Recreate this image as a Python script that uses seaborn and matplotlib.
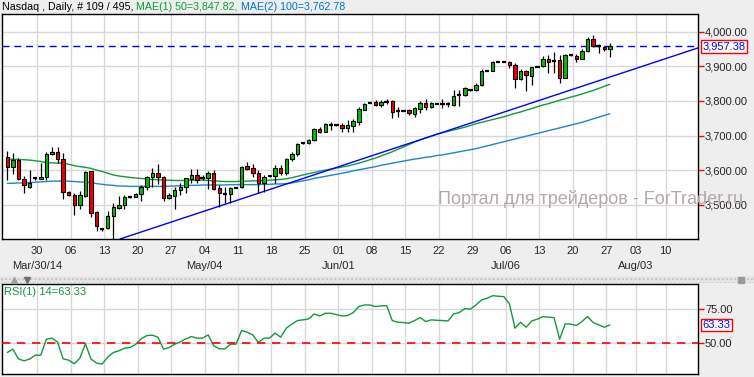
import numpy as np
import pandas as pd
import seaborn as sns
import matplotlib
matplotlib.use("Agg")
import matplotlib.pyplot as plt
import matplotlib.transforms as mtransforms
from matplotlib.ticker import FuncFormatter
from matplotlib.patches import Rectangle
from matplotlib.lines import Line2D

# ---- data (Nasdaq daily, 109 bars) ----
opens = [3637, 3610, 3629, 3573, 3552, 3576, 3575, 3579, 3646, 3653,
         3631, 3536, 3527, 3499, 3526, 3596, 3478, 3429, 3432, 3468,
         3492, 3498, 3522, 3523, 3530, 3550, 3579, 3591, 3581, 3520,
         3525, 3542, 3552, 3573, 3585, 3576, 3577, 3591, 3547, 3532,
         3531, 3549, 3550, 3612, 3605, 3593, 3562, 3582, 3583, 3605,
         3591, 3631, 3646, 3678, 3677, 3687, 3719, 3711, 3731, 3731,
         3730, 3723, 3727, 3740, 3775, 3795, 3796, 3788, 3797, 3800,
         3772, 3772, 3774, 3761, 3776, 3793, 3783, 3792, 3790, 3790,
         3788, 3816, 3817, 3832, 3832, 3846, 3887, 3887, 3913, 3913,
         3913, 3904, 3862, 3886, 3873, 3899, 3901, 3921, 3914, 3918,
         3867, 3933, 3930, 3922, 3945, 3979, 3959, 3957, 3949]
highs = [3656, 3649, 3636, 3584, 3600, 3578, 3620, 3653, 3666, 3666,
         3649, 3540, 3533, 3540, 3598, 3598, 3482, 3432, 3482, 3504,
         3525, 3528, 3524, 3534, 3557, 3584, 3606, 3617, 3583, 3533,
         3552, 3564, 3578, 3603, 3602, 3586, 3597, 3600, 3557, 3550,
         3552, 3551, 3612, 3624, 3618, 3600, 3586, 3586, 3615, 3615,
         3634, 3653, 3679, 3680, 3689, 3723, 3726, 3737, 3740, 3734,
         3735, 3745, 3747, 3783, 3795, 3797, 3803, 3803, 3805, 3803,
         3783, 3774, 3776, 3782, 3800, 3805, 3798, 3794, 3805, 3796,
         3832, 3832, 3839, 3835, 3851, 3891, 3889, 3916, 3914, 3914,
         3915, 3909, 3891, 3889, 3899, 3902, 3930, 3933, 3940, 3933,
         3935, 3935, 3936, 3949, 3986, 3990, 3963, 3960, 3968]
lows = [3571, 3589, 3571, 3533, 3547, 3572, 3573, 3571, 3644, 3620,
        3518, 3526, 3470, 3488, 3523, 3464, 3425, 3425, 3429, 3400,
        3488, 3488, 3520, 3521, 3512, 3543, 3552, 3560, 3512, 3518,
        3487, 3528, 3533, 3564, 3562, 3571, 3545, 3543, 3494, 3504,
        3504, 3547, 3547, 3600, 3579, 3533, 3538, 3580, 3562, 3586,
        3586, 3627, 3641, 3676, 3675, 3685, 3706, 3709, 3716, 3728,
        3711, 3709, 3711, 3729, 3774, 3793, 3786, 3783, 3790, 3750,
        3754, 3770, 3759, 3754, 3764, 3774, 3779, 3790, 3779, 3781,
        3786, 3786, 3815, 3829, 3830, 3843, 3885, 3885, 3912, 3912,
        3894, 3836, 3859, 3830, 3846, 3897, 3899, 3880, 3880, 3853,
        3865, 3931, 3911, 3920, 3942, 3957, 3938, 3945, 3928]
closes = [3610, 3629, 3573, 3557, 3562, 3576, 3580, 3647, 3653, 3631,
          3536, 3527, 3499, 3527, 3596, 3477, 3438, 3429, 3468, 3494,
          3499, 3522, 3522, 3531, 3550, 3579, 3591, 3581, 3520, 3528,
          3542, 3552, 3576, 3586, 3571, 3576, 3591, 3545, 3533, 3532,
          3547, 3549, 3610, 3604, 3593, 3562, 3581, 3585, 3605, 3591,
          3632, 3647, 3675, 3678, 3687, 3719, 3711, 3733, 3731, 3731,
          3723, 3730, 3742, 3777, 3791, 3795, 3788, 3796, 3797, 3769,
          3772, 3772, 3764, 3779, 3793, 3783, 3793, 3792, 3790, 3790,
          3813, 3816, 3836, 3832, 3846, 3885, 3887, 3913, 3913, 3913,
          3904, 3862, 3886, 3874, 3897, 3899, 3921, 3913, 3914, 3867,
          3933, 3933, 3922, 3945, 3979, 3960, 3958, 3949, 3957.38]

mae50 = [3632, 3631, 3631, 3630, 3629, 3627, 3625, 3622, 3621, 3620,
         3620, 3617, 3613, 3610, 3608, 3605, 3600, 3596, 3591, 3586,
         3583, 3581, 3579, 3577, 3576, 3574, 3573, 3572, 3571, 3571,
         3570, 3570, 3570, 3571, 3571, 3571, 3570, 3569, 3568, 3567,
         3567, 3567, 3568, 3568, 3569, 3569, 3570, 3571, 3572, 3573,
         3575, 3578, 3582, 3586, 3590, 3593, 3597, 3600, 3603, 3606,
         3609, 3612, 3616, 3620, 3625, 3630, 3635, 3641, 3647, 3653,
         3660, 3667, 3674, 3681, 3687, 3693, 3698, 3704, 3708, 3712,
         3716, 3720, 3724, 3729, 3734, 3738, 3742, 3746, 3750, 3754,
         3759, 3764, 3768, 3773, 3778, 3783, 3788, 3792, 3797, 3802,
         3806, 3811, 3815, 3820, 3825, 3830, 3836, 3842, 3847.82]
mae100 = [3562, 3562, 3563, 3563, 3564, 3565, 3566, 3567, 3568, 3568,
          3569, 3568, 3567, 3566, 3565, 3564, 3561, 3559, 3557, 3556,
          3554, 3554, 3553, 3553, 3553, 3553, 3553, 3553, 3553, 3554,
          3554, 3555, 3555, 3556, 3556, 3557, 3557, 3557, 3557, 3557,
          3558, 3558, 3558, 3558, 3558, 3558, 3559, 3559, 3560, 3560,
          3561, 3563, 3566, 3569, 3572, 3576, 3579, 3582, 3585, 3588,
          3591, 3594, 3598, 3601, 3604, 3607, 3610, 3614, 3617, 3620,
          3623, 3626, 3629, 3632, 3634, 3637, 3639, 3642, 3644, 3647,
          3650, 3653, 3656, 3659, 3662, 3666, 3670, 3674, 3678, 3682,
          3686, 3690, 3694, 3698, 3702, 3706, 3710, 3714, 3718, 3722,
          3726, 3730, 3734, 3738, 3743, 3748, 3753, 3758, 3762.78]

rsi = [42.8, 45.3, 38.1, 36.6, 37.9, 40.8, 40.8, 52.7, 53.5, 50.7,
       38.1, 37.1, 34.4, 38.6, 49.3, 37.9, 34.9, 34.2, 39.4, 42.8,
       44.1, 46.0, 46.5, 48.8, 53.0, 55.4, 55.7, 54.2, 45.3, 46.5,
       49.0, 50.7, 53.0, 54.7, 53.5, 53.5, 55.9, 47.8, 45.5, 45.5,
       49.0, 49.0, 59.2, 57.9, 55.9, 50.2, 53.5, 53.5, 57.2, 54.2,
       60.9, 63.9, 66.6, 67.1, 67.8, 71.5, 70.0, 72.0, 72.0, 71.0,
       70.0, 70.3, 72.5, 77.0, 78.2, 78.2, 77.0, 77.5, 77.7, 66.6,
       65.3, 65.1, 64.6, 66.6, 68.8, 65.8, 67.1, 66.8, 66.6, 66.3,
       71.5, 72.5, 75.5, 75.0, 78.2, 81.9, 83.2, 85.1, 84.7, 84.4,
       79.0, 60.9, 65.3, 61.6, 66.3, 67.6, 69.6, 69.1, 68.8, 52.7,
       64.1, 63.9, 62.9, 65.8, 69.6, 65.1, 63.4, 61.6, 63.33]

trend_x = [20.2, 123.8]
trend_y = [3401, 3953]
last_price = 3957.38

week_ticks = [5.35, 11.35, 17.35, 23.35, 29.35, 35.35, 41.35, 47.35, 53.35,
              59.35, 65.35, 71.35, 77.35, 83.35, 89.35, 95.35, 101.35,
              107.35, 112.7, 118.0]
week_labels = ["30", "06", "13", "20", "27", "04", "11", "18", "25", "01",
               "08", "15", "22", "29", "06", "13", "20", "27", "03", "10"]
month_at = [0, 5, 9, 14, 18]
month_labels = ["Mar/30/14", "May/04", "Jun/01", "Jul/06", "Aug/03"]

df = pd.DataFrame({"bar": np.arange(len(closes)), "open": opens, "high": highs,
                   "low": lows, "close": closes, "mae50": mae50,
                   "mae100": mae100, "rsi": rsi})

sns.set_style("white")
plt.rcParams["font.family"] = ["Liberation Sans", "DejaVu Sans"]

W, H = 754, 377
fig = plt.figure(figsize=(W / 100, H / 100), dpi=100, facecolor="#EEEEEE")


def box(l, t, r, b):
    return [l / W, 1 - b / H, (r - l) / W, (b - t) / H]


ax = fig.add_axes(box(2, 14, 698, 239))
ax2 = fig.add_axes(box(2, 284, 698, 374))
XL = (-0.95, 123.8)

# ---- price panel ----
body_lo = np.minimum(df.open, df.close)
body_h = (df.close - df.open).abs()
doji = body_h < 2.5
up = df.close > df.open
col = np.where(up, "#00C000", "#F00000")

ax.vlines(df.bar, df.low, df.high, color="black", lw=0.9, zorder=3)
ax.bar(df.bar[~doji], body_h[~doji], bottom=body_lo[~doji], width=0.62,
       color=col[~doji], edgecolor="black", linewidth=0.8, zorder=4)
ax.hlines(df.close[doji], df.bar[doji] - 0.4, df.bar[doji] + 0.4,
          color="black", lw=1.6, zorder=4)

sns.lineplot(data=df, x="bar", y="mae50", ax=ax, color="#129A3A", lw=1, zorder=2)
sns.lineplot(data=df, x="bar", y="mae100", ax=ax, color="#1C86C8", lw=1, zorder=2)
ax.plot(trend_x, trend_y, color="#0000FF", lw=1, zorder=2)
ax.axhline(last_price, color="#0000FF", lw=1, ls=(0, (5, 3.5)), zorder=2)

ax.set_xlim(*XL)
ax.set_ylim(3401, 4051)
ax.set_xlabel("")
ax.set_ylabel("")
ax.set_xticks(week_ticks)
ax.set_xticklabels(week_labels)
ax.set_yticks([3500, 3600, 3700, 3800, 3900, 4000])
ax.yaxis.set_major_formatter(FuncFormatter(lambda v, p: f"{v:,.2f}"))
ax.yaxis.tick_right()
ax.grid(True, color="#D8D8D8", lw=1)
ax.set_axisbelow(True)
ax.tick_params(axis="y", direction="out", length=4, width=1, color="red",
               labelsize=8, pad=1, right=True, left=False)
ax.tick_params(axis="x", direction="out", length=3, width=1, color="red",
               labelsize=8, pad=2)
for s in ax.spines.values():
    s.set_color("black")
    s.set_linewidth(1)

tr = mtransforms.blended_transform_factory(ax.transData, ax.transAxes)
for i, lab in zip(month_at, month_labels):
    ax.text(week_ticks[i], -0.12, lab, transform=tr, ha="center", va="center",
            fontsize=8)

tr_y = mtransforms.blended_transform_factory(ax.transAxes, ax.transData)
ax.text(1.006, last_price, f"{last_price:,.2f}", transform=tr_y, ha="left",
        va="center", fontsize=8, color="#0000FF",
        bbox=dict(boxstyle="square,pad=0.12", fc="white", ec="red", lw=1))

# ---- RSI panel ----
sns.lineplot(data=df, x="bar", y="rsi", ax=ax2, color="#119A3A", lw=1)
ax2.axhline(50, color="#FF0000", lw=1.2, ls=(0, (5, 4)), zorder=3)
ax2.set_xlim(*XL)
ax2.set_ylim(26.8, 93.8)
ax2.set_xlabel("")
ax2.set_ylabel("")
ax2.set_xticks(week_ticks)
ax2.set_xticklabels([])
ax2.set_yticks([50, 75])
ax2.yaxis.set_major_formatter(FuncFormatter(lambda v, p: f"{v:.2f}"))
ax2.yaxis.tick_right()
ax2.grid(True, color="#D8D8D8", lw=1)
ax2.set_axisbelow(True)
ax2.tick_params(axis="y", direction="out", length=4, width=1, color="red",
                labelsize=8, pad=1, right=True, left=False)
ax2.tick_params(axis="x", length=0)
for s in ax2.spines.values():
    s.set_color("black")
    s.set_linewidth(1)
ax2.text(0.003, 0.97, f"RSI(1) 14={rsi[-1]:.2f}", transform=ax2.transAxes,
         ha="left", va="top", fontsize=8, color="#119A3A")
tr_y2 = mtransforms.blended_transform_factory(ax2.transAxes, ax2.transData)
ax2.text(1.006, rsi[-1], f"{rsi[-1]:.2f}", transform=tr_y2, ha="left",
         va="center", fontsize=8, color="#0000FF",
         bbox=dict(boxstyle="square,pad=0.12", fc="white", ec="red", lw=1))

# ---- separator strip between panels ----
fig.add_artist(Rectangle((0, 1 - 283 / H), 1, 7 / H, transform=fig.transFigure,
                         fc="#E6E6E6", ec="#C4C4C4", hatch="....", lw=0))
fig.add_artist(Line2D([14 / W], [1 - 279.5 / H], marker="^", ms=5, color="#A0A0A0",
                      transform=fig.transFigure))
fig.add_artist(Line2D([27 / W], [1 - 279.5 / H], marker="v", ms=5, color="#707070",
                      transform=fig.transFigure))
fig.add_artist(Line2D([741 / W], [1 - 279.5 / H], marker="s", ms=4, color="#9A9A9A",
                      transform=fig.transFigure))

# ---- header and watermark ----
fig.text(438 / W, 1 - 199 / H, "Портал для трейдеров - ForTrader.ru",
         fontsize=13, color="#B4A8A8", ha="left", va="center")

pieces = [("Nasdaq , Daily, # 109 / 495,", "black"),
          (" MAE(1) 50=3,847.82,", "#0A9A3A"),
          (" MAE(2) 100=3,762.78", "#0074C8")]
fig.canvas.draw()
renderer = fig.canvas.get_renderer()
x = 2 / W
for s, c in pieces:
    t = fig.text(x, 1 - 7 / H, s, fontsize=7.7, color=c, ha="left", va="center")
    bb = t.get_window_extent(renderer)
    x = bb.x1 / W

fig.savefig("out.png", dpi=100, facecolor=fig.get_facecolor())
